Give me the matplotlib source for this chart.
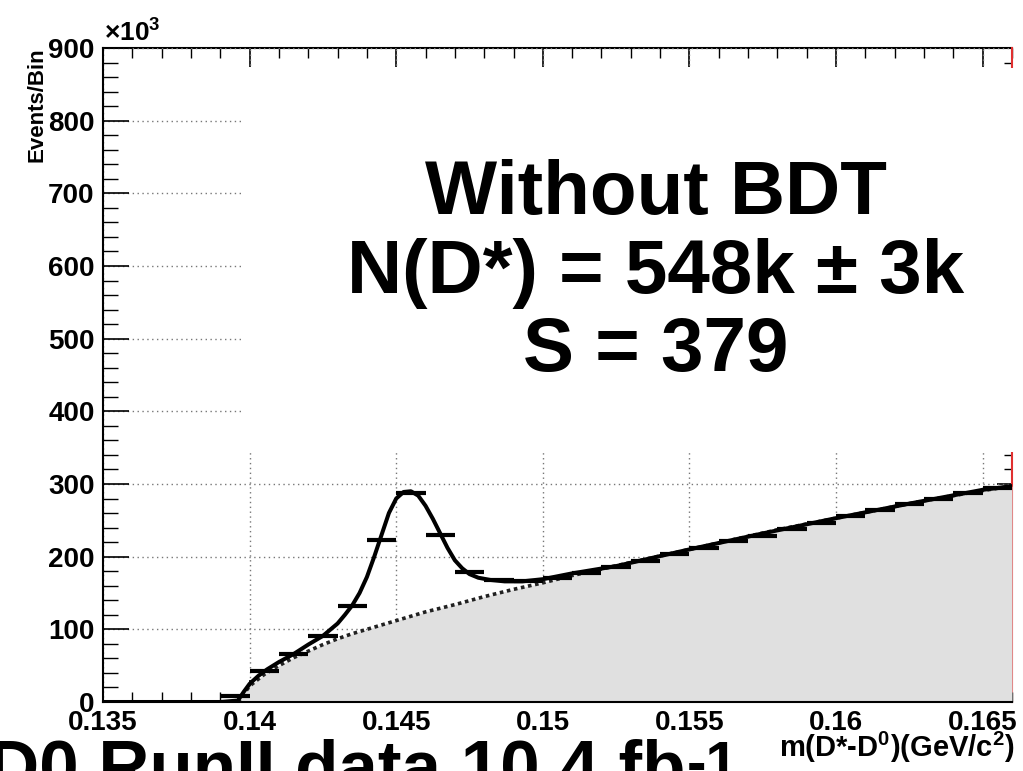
import matplotlib
matplotlib.use('Agg')
import matplotlib.pyplot as plt
from matplotlib.patches import Rectangle
from matplotlib.ticker import MultipleLocator
from matplotlib.transforms import offset_copy

plt.rcParams['font.family'] = ['Liberation Sans', 'DejaVu Sans']
plt.rcParams['font.weight'] = 'bold'
plt.rcParams['mathtext.fontset'] = 'custom'
plt.rcParams['mathtext.rm'] = 'Liberation Sans:bold'
plt.rcParams['mathtext.bf'] = 'Liberation Sans:bold'
plt.rcParams['mathtext.default'] = 'bf'

## data histogram, 1 MeV bins, events in units of 1e3
bin_centers = [0.1355, 0.1365, 0.1375, 0.1385, 0.1395, 0.1405, 0.1415, 0.1425,
               0.1435, 0.1445, 0.1455, 0.1465, 0.1475, 0.1485, 0.1495, 0.1505,
               0.1515, 0.1525, 0.1535, 0.1545, 0.1555, 0.1565, 0.1575, 0.1585,
               0.1595, 0.1605, 0.1615, 0.1625, 0.1635, 0.1645, 0.1655]
counts = [0, 0, 0, 0, 8, 43, 66, 91, 132, 223, 287, 230, 179, 168, 167, 171,
          178, 186, 194, 203, 212, 221, 229, 238, 247, 256, 264, 272, 279, 287, 295]
bin_width = 0.001

## total fit curve (signal + background)
fit_x = [0.135, 0.1390, 0.1396, 0.1398, 0.1400, 0.1403, 0.1406, 0.1410, 0.1415,
         0.1420, 0.1425, 0.1430, 0.14325, 0.1435, 0.14375, 0.1440, 0.14425, 0.1445,
         0.14475, 0.1450, 0.14525, 0.1455, 0.14575, 0.1460, 0.14625, 0.1465,
         0.14675, 0.1470, 0.14725, 0.1475, 0.1478, 0.1482, 0.1487, 0.1493, 0.1500,
         0.1510, 0.1525, 0.1550, 0.1575, 0.1600, 0.1625, 0.1650, 0.1660]
fit_y = [0, 0, 2, 14, 25, 36, 45, 55, 66, 79, 91, 108, 120, 133, 150, 172, 200,
         230, 260, 280, 289, 290, 284, 270, 252, 232, 212, 195, 184, 176, 171, 168,
         166, 166, 169, 177, 187, 210, 232, 253, 273, 292, 297]

## background component
bkg_x = [0.1396, 0.1400, 0.1405, 0.1410, 0.1415, 0.1420, 0.1425, 0.1430, 0.1435,
         0.1440, 0.1445, 0.1450, 0.1460, 0.1470, 0.1480, 0.1490, 0.1500, 0.1510,
         0.1520, 0.1530, 0.1540, 0.1550, 0.1560, 0.1570, 0.1580, 0.1590, 0.1600,
         0.1610, 0.1620, 0.1630, 0.1640, 0.1650, 0.1660]
bkg_y = [0, 22, 38, 50, 61, 70, 79, 87, 94, 100, 106, 112, 124, 134, 145, 155,
         164, 174, 183, 192, 201, 210, 219, 228, 237, 245, 253, 261, 269, 277,
         284, 291, 297]

y_ticks = [0, 100, 200, 300, 400, 500, 600, 700, 800, 900]
x_ticks = [0.135, 0.14, 0.145, 0.15, 0.155, 0.16, 0.165]
x_tick_labels = ['0.135', '0.14', '0.145', '0.15', '0.155', '0.16', '0.165']

fig = plt.figure(figsize=(10.23, 7.71), dpi=100)
ax = fig.add_axes([103 / 1023, 1 - 702 / 771, (1012 - 103) / 1023, (702 - 48) / 771])

ax.set_xlim(0.135, 0.166)
ax.set_ylim(0, 900)

# background fill + dotted line
ax.fill_between(bkg_x, 0, bkg_y, color='#e0e0e0', linewidth=0, zorder=1)
ax.plot(bkg_x, bkg_y, color='#222222', linestyle=(0, (1, 1)), linewidth=2.6, zorder=2)
ax.axhline(0, color='#e03030', linewidth=1.0, zorder=2)

# fit and data
ax.plot(fit_x, fit_y, color='black', linewidth=2.9, zorder=4, solid_joinstyle='round')
for xc, yc in zip(bin_centers, counts):
    if yc > 0:
        ax.hlines(yc, xc - bin_width / 2, xc + bin_width / 2, color='black',
                  linewidth=3.0, zorder=5)

# grid
ax.grid(True, which='major', color='#777777', linestyle=(0, (1, 2.5)), linewidth=1.0)
ax.set_axisbelow(True)

ax.set_xticks(x_ticks)
ax.set_xticklabels(x_tick_labels)
ax.set_yticks(y_ticks)
ax.xaxis.set_minor_locator(MultipleLocator(0.001))
ax.yaxis.set_minor_locator(MultipleLocator(20))
ax.tick_params(axis='x', which='major', direction='in', length=16, width=1.2,
               labelsize=20, pad=6, top=False)
ax.tick_params(axis='x', which='minor', direction='in', length=7, width=1.0, top=False)
ax.tick_params(axis='y', which='major', direction='in', length=19, width=1.2,
               labelsize=20, pad=6, right=False)
ax.tick_params(axis='y', which='minor', direction='in', length=11, width=1.0, right=False)

# top and right axes with their own tick lengths
top = ax.secondary_xaxis('top')
top.set_xticks(x_ticks)
top.xaxis.set_minor_locator(MultipleLocator(0.001))
top.tick_params(which='major', direction='in', length=14, width=1.2, labeltop=False)
top.tick_params(which='minor', direction='in', length=7, width=1.0)
top.spines['top'].set_linewidth(1.5)

right = ax.secondary_yaxis('right')
right.set_yticks(y_ticks)
right.yaxis.set_minor_locator(MultipleLocator(20))
right.tick_params(which='major', direction='in', length=11, width=1.2, labelright=False)
right.tick_params(which='minor', direction='in', length=6, width=1.0)
right.spines['right'].set_color('#e03030')
right.spines['right'].set_linewidth(1.5)

for s in ['left', 'bottom']:
    ax.spines[s].set_linewidth(1.5)
ax.spines['top'].set_visible(False)
ax.spines['right'].set_visible(False)

# white text pave covering the upper part of the frame
pave = Rectangle((0.13977, 344), 0.0270, 528, facecolor='white', edgecolor='none',
                 zorder=10, clip_on=False)
ax.add_patch(pave)

big = dict(fontweight='bold', fontsize=55, ha='center', va='baseline', zorder=11)
fig.text(656 / 1023, 1 - 214 / 771, 'Without BDT', **big)
fig.text(656 / 1023, 1 - 293 / 771, 'N(D*) = 548k \u00b1 3k', **big)
fig.text(656 / 1023, 1 - 371 / 771, 'S = 379', **big)

fig.text(104 / 1023, 1 - 42 / 771, r'$\times$10$^{3}$', fontsize=19, ha='left', va='baseline')
fig.text(37 / 1023, 1 - 47 / 771, 'Events/Bin', fontsize=16, rotation=90,
         ha='center', va='top')
fig.text(1015 / 1023, 1 - 757 / 771, r'm(D*-D$^{0}$)(GeV/c$^{2}$)', fontsize=21,
         ha='right', va='baseline')

## bottom caption, with the -1 exponent placed right after "fb"
cap = fig.text(-12 / 1023, 1 - 790 / 771, 'D0 RunII data 10.4 fb', fontsize=51,
               ha='left', va='baseline')
fig.canvas.draw()
bb = cap.get_window_extent()
fig.text(bb.x1 / fig.bbox.width, 1 - 790 / 771, '-1', fontsize=42, ha='left',
         va='baseline', transform=offset_copy(fig.transFigure, fig=fig, x=1, y=8, units='dots'))

fig.savefig('out.png', dpi=100)
